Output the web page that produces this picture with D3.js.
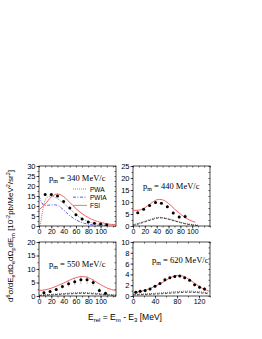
<!DOCTYPE html>
<html>
<head>
<meta charset="utf-8">
<title>FSI cross sections</title>
<script src="https://cdn.jsdelivr.net/npm/d3@7"></script>
<style>
  body { margin: 0; background: #fff; }
  svg text { font-family: "Liberation Sans", Arial, sans-serif; fill: #000; }
  .serif { font-family: "Liberation Serif", "Times New Roman", serif; }
</style>
</head>
<body>
<svg id="chart" width="262" height="339"></svg>
<script>
// momenta of the four panels
var momenta = [340, 440, 550, 620];

// data points [Erel, value] and error bars
var dots340 = [[10,15.8],[20,15.8],[30,15],[40,12.3],[50,9],[60,5.6],[70,3.5],[80,2],[90,1.4],[100,1],[110,0.6]];
var err340 = [0.6,0.6,0.6,0.6,0.5,0.4,0.3,0.3,0.3,0.3,0.3];
var dots440 = [[8,5.5],[18,7],[28,8.5],[38,9.8],[48,9.5],[58,8],[68,5.4],[78,3.8],[88,4]];
var err440 = [0.5,0.5,0.5,0.5,0.5,0.5,0.6,0.8,1];
var dots550 = [[8,1.2],[18,1.7],[28,2.4],[38,3.5],[48,4.5],[58,5.3],[68,6],[78,6],[88,5],[98,2],[108,1]];
var err550 = [0.6,0.6,0.6,0.8,1,1.3,1.5,1.5,1.3,1,0.6];
var dots620 = [[5,0.7],[13,0.9],[22,1],[31,1.3],[40,1.8],[49,2.3],[58,3],[67,3.4],[76,3.6],[85,3.7],[94,3.4],[103,2.9],[112,2.1],[121,1.6],[130,1.3]];
var err620 = [0.3,0.3,0.3,0.3,0.3,0.3,0.3,0.3,0.3,0.3,0.3,0.3,0.3,0.4,0.4];

// calculated curves [Erel, value]
var fsi340 = [[0,8],[10,11],[20,14.5],[30,16],[40,14.7],[50,11.8],[60,8.7],[70,6.2],[80,4.2],[90,2.8],[100,1.8],[110,1.1],[125,0.6]];
var pwia340 = [[0,15],[4,12],[8,10.3],[15,10.4],[25,10.6],[32,10],[40,8],[50,5.2],[60,3.1],[70,1.7],[80,0.9],[90,0.5],[100,0.3],[110,0.2]];
var pwa340 = [[2,0],[5,6],[8,11],[12,14],[18,15],[28,14],[40,11.3],[50,8.6],[60,5.8],[70,3.7],[80,2.2],[90,1.3],[100,0.8],[110,0.5]];
var fsi440 = [[0,6.5],[10,6.6],[20,7.6],[30,9.4],[40,10.9],[45,11.1],[50,10.9],[60,9.4],[70,7.1],[80,5],[90,3.2],[100,2],[105,1.6]];
var pwia440 = [[0,0.3],[10,0.9],[20,1.7],[30,2.5],[40,3.2],[45,3.4],[50,3.3],[60,2.8],[70,2.1],[80,1.4],[90,0.8],[100,0.4],[110,0.2]];
var pwa440 = [[0,0.5],[10,1.2],[20,2],[30,2.8],[40,3.5],[45,3.6],[50,3.5],[60,3],[70,2.3],[80,1.6],[90,1],[100,0.6],[110,0.3]];
var fsi550 = [[0,2],[10,2.3],[20,2.9],[30,3.8],[40,4.8],[50,5.9],[60,6.8],[70,7.2],[80,6.8],[90,5.6],[100,4.2],[110,3],[125,2]];
var pwia550 = [[0,0.2],[20,0.4],[40,0.7],[60,0.9],[70,1],[80,0.9],[100,0.6],[110,0.4],[125,0.2]];
var pwa550 = [[0,0.3],[20,0.6],[40,0.9],[60,1.2],[70,1.3],[80,1.2],[100,0.8],[110,0.6],[125,0.4]];
var fsi620 = [[0,0.6],[20,1],[40,1.8],[60,2.9],[70,3.5],[80,3.8],[90,3.7],[100,3.2],[110,2.5],[120,1.8],[130,1.2],[136,1]];
var pwia620 = [[0,0.2],[40,0.35],[80,0.6],[100,0.7],[120,0.6],[136,0.45]];
var pwa620 = [[0,0.3],[40,0.5],[80,0.8],[100,0.9],[120,0.8],[136,0.6]];

// axis ticks
var xTicksA = [0, 20, 40, 60, 80, 100];
var xTicksB = [0, 40, 80, 120];
var yTicks340 = [0, 5, 10, 15, 20, 25, 30];
var yTicks440 = [0, 5, 10, 15, 20, 25];
var yTicks550 = [0, 5, 10, 15, 20];
var yTicks620 = [0, 2, 4, 6, 8, 10];

var legendLabels = ["PWA", "PWIA", "FSI"];

var svg = d3.select("#chart");

var panels = [
  { p: momenta[0], x0: 39, y0: 166, h: 60, xMax: 125, yMax: 30, xt: xTicksA, yt: yTicks340, dots: dots340, err: err340, fsi: fsi340, pwia: pwia340, pwa: pwa340, blue: true, lx: 10, ly: 15 },
  { p: momenta[1], x0: 133, y0: 166, h: 60, xMax: 130, yMax: 25, xt: xTicksA, yt: yTicks440, dots: dots440, err: err440, fsi: fsi440, pwia: pwia440, pwa: pwa440, lx: 10, ly: 23 },
  { p: momenta[2], x0: 39, y0: 242, h: 54, xMax: 125, yMax: 20, xt: xTicksA, yt: yTicks550, dots: dots550, err: err550, fsi: fsi550, pwia: pwia550, pwa: pwa550, lx: 10, ly: 25 },
  { p: momenta[3], x0: 133, y0: 242, h: 54, xMax: 140, yMax: 10, xt: xTicksB, yt: yTicks620, dots: dots620, err: err620, fsi: fsi620, pwia: pwia620, pwa: pwa620, lx: 19, ly: 21 }
];
var pw = 77;

panels.forEach(function(d, i) {
  var h = d.h;
  var g = svg.append("g").attr("transform", "translate(" + d.x0 + "," + d.y0 + ")");
  var x = d3.scaleLinear().domain([0, d.xMax]).range([0, pw]);
  var y = d3.scaleLinear().domain([0, d.yMax]).range([h, 0]);

  var clip = "clip" + i;
  g.append("clipPath").attr("id", clip).append("rect").attr("width", pw).attr("height", h);

  // axes, with half-step minor ticks
  var xStep = d.xt[1] - d.xt[0];
  var xMinor = d3.range(0, d.xMax + 0.01, xStep / 2);
  var yStep = d.yt[1] - d.yt[0];
  var yMinor = d3.range(0, d.yMax + 0.01, yStep / 2);

  g.append("g").attr("transform", "translate(0," + h + ")")
    .call(d3.axisBottom(x).tickValues(d.xt).tickSize(2.5).tickPadding(1).tickFormat(d3.format("d")))
    .call(function(a) { a.select(".domain").remove(); a.selectAll("text").attr("font-size", 7); });
  g.append("g").attr("transform", "translate(0," + h + ")")
    .call(d3.axisBottom(x).tickValues(xMinor).tickSize(1.5).tickFormat(""))
    .call(function(a) { a.select(".domain").remove(); });
  g.append("g")
    .call(d3.axisLeft(y).tickValues(d.yt).tickSize(2.5).tickPadding(1).tickFormat(d3.format("d")))
    .call(function(a) { a.select(".domain").remove(); a.selectAll("text").attr("font-size", 7.5); });
  g.append("g")
    .call(d3.axisLeft(y).tickValues(yMinor).tickSize(1.5).tickFormat(""))
    .call(function(a) { a.select(".domain").remove(); });
  // inner ticks on top and right
  g.append("g")
    .call(d3.axisBottom(x).tickValues(xMinor).tickSize(1.5).tickFormat(""))
    .call(function(a) { a.select(".domain").remove(); });
  g.append("g").attr("transform", "translate(" + pw + ",0)")
    .call(d3.axisRight(y).tickValues(yMinor).tickSize(-1.5).tickFormat(""))
    .call(function(a) { a.select(".domain").remove(); });
  g.selectAll(".tick line").attr("stroke", "#000").attr("stroke-width", 0.6);

  g.append("rect").attr("width", pw).attr("height", h)
    .attr("fill", "none").attr("stroke", "#000").attr("stroke-width", 0.7);

  var line = d3.line().x(function(p) { return x(p[0]); }).y(function(p) { return y(p[1]); })
    .curve(d3.curveMonotoneX);
  var curves = g.append("g").attr("clip-path", "url(#" + clip + ")");

  curves.append("path").datum(d.pwa).attr("d", line).attr("fill", "none")
    .attr("stroke", d.blue ? "#777" : "#444").attr("stroke-width", 0.8).attr("stroke-dasharray", "1,1");
  curves.append("path").datum(d.pwia).attr("d", line).attr("fill", "none")
    .attr("stroke", d.blue ? "#3333ee" : "#222").attr("stroke-width", 0.8)
    .attr("stroke-dasharray", d.blue ? "3,1.5,1,1.5" : "2.5,1.5");
  curves.append("path").datum(d.fsi).attr("d", line).attr("fill", "none")
    .attr("stroke", "#f05050").attr("stroke-width", 0.9);

  // error bars and points
  curves.selectAll(".err").data(d.dots).enter().append("line")
    .attr("x1", function(p) { return x(p[0]); }).attr("x2", function(p) { return x(p[0]); })
    .attr("y1", function(p, j) { return y(p[1] - d.err[j]); })
    .attr("y2", function(p, j) { return y(p[1] + d.err[j]); })
    .attr("stroke", "#888").attr("stroke-width", 0.5);
  curves.selectAll(".dot").data(d.dots).enter().append("circle")
    .attr("cx", function(p) { return x(p[0]); }).attr("cy", function(p) { return y(p[1]); })
    .attr("r", 1.5).attr("fill", "#000");

  // momentum label
  var lbl = g.append("text").attr("class", "serif").attr("font-size", 8.5)
    .attr("x", d.lx).attr("y", d.ly);
  lbl.append("tspan").text("p");
  lbl.append("tspan").attr("font-size", 6).attr("dy", 2).text("m");
  lbl.append("tspan").attr("dy", -2).text(" = " + d.p + " MeV/c");

  if (d.blue) {
    var lg = g.append("g").attr("transform", "translate(34,23)");
    var styles = [
      { c: "#777", dash: "1,1" },
      { c: "#3333ee", dash: "3,1.5,1,1.5" },
      { c: "#f05050", dash: null }
    ];
    legendLabels.forEach(function(t, k) {
      lg.append("line").attr("x1", 0).attr("x2", 14).attr("y1", k * 8.2).attr("y2", k * 8.2)
        .attr("stroke", styles[k].c).attr("stroke-width", 0.8).attr("stroke-dasharray", styles[k].dash);
      lg.append("text").attr("x", 17).attr("y", k * 8.2 + 2.5).attr("font-size", 6.5).text(t);
    });
  }
});

// x axis title
var xt = svg.append("text").attr("x", 125).attr("y", 320).attr("text-anchor", "middle").attr("font-size", 8.5);
xt.append("tspan").text("E");
xt.append("tspan").attr("font-size", 6).attr("dy", 2).text("rel");
xt.append("tspan").attr("dy", -2).text(" = E");
xt.append("tspan").attr("font-size", 6).attr("dy", 2).text("m");
xt.append("tspan").attr("dy", -2).text(" - E");
xt.append("tspan").attr("font-size", 6).attr("dy", 2).text("3");
xt.append("tspan").attr("dy", -2).text(" [MeV]");

// y axis title
var yt = svg.append("text").attr("transform", "translate(13,236) rotate(-90)")
  .attr("text-anchor", "middle").attr("font-size", 8);
function part(t, dy, small) {
  var s = yt.append("tspan").text(t);
  if (dy) s.attr("dy", dy);
  if (small) s.attr("font-size", 5.5);
}
part("d");
part("6", -3, true);
part("σ/dE", 3);
part("e", 2, true);
part("dΩ", -2);
part("e", 2, true);
part("dΩ", -2);
part("p", 2, true);
part("dE", -2);
part("m", 2, true);
part(" [10", -2);
part("-2", -3, true);
part("pb/MeV", 3);
part("2", -3, true);
part("/sr", 3);
part("2", -3, true);
part("]", 3);
</script>
</body>
</html>
